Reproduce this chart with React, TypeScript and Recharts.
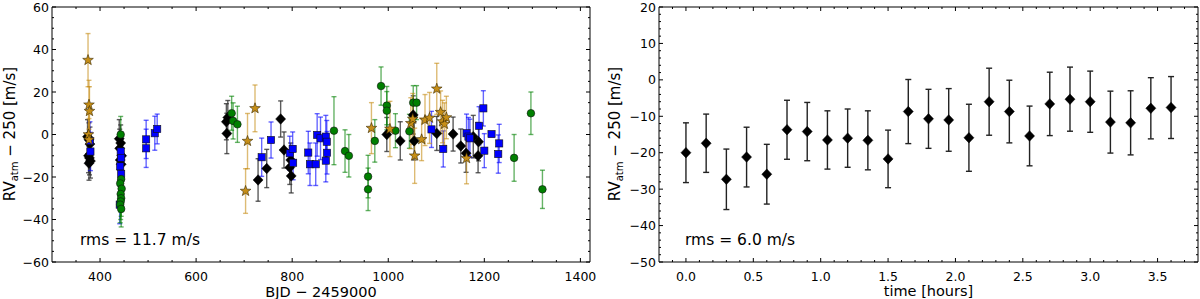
import React from 'react';
import { ScatterChart, Scatter, XAxis, YAxis, ErrorBar, ReferenceArea } from 'recharts';

const FONT = '"DejaVu Sans", "Liberation Sans", sans-serif';

// ---------- Left panel data: [BJD - 2459000, RV, error] ----------
const blackPts: number[][] = [
  [374, -1, 8], [377, -2.5, 8], [379, -4.5, 8], [376, -10, 8], [378, -11, 8], [380, -12.5, 8], [377, -13.5, 8],
  [440, -2, 9], [443, -4, 8.5], [441, -6.5, 9], [445, -10, 9], [442, -12, 9], [444, -14, 9],
  [663, 6, 8.5], [666, 8, 8], [664, 0.5, 9.5],
  [729, -21.4, 10], [747, -16, 9], [776, 7.3, 8.5], [783, -7.3, 8.5], [797, -12, 8], [795, -15.5, 8], [798, -19.5, 8],
  [997, 0, 8], [1025, -3, 9], [1052, 9.2, 9], [1054, -3, 9], [1101, 0.5, 8], [1135, 0.2, 8], [1151, -5.4, 8],
  [1162, -8.8, 9], [1177, -1, 10], [1188, -3.4, 9], [1187, -10, 8],
];
const bluePts: number[][] = [
  [379, -3, 9], [380, -8, 9],
  [443, -8, 9], [444, -11, 9], [442, -15, 9], [444, -18.5, 9], [441, -33, 9],
  [496, -2.3, 9], [496, -6.5, 9], [514, 0.6, 8], [519, 2.6, 7],
  [736.5, -10.7, 9], [756, -2.6, 8.5], [795, -8.8, 8], [801, -6.8, 8], [802, -13.3, 8],
  [833.5, -8.5, 10], [837, -14, 10], [849, -14, 10], [852, -0.2, 10], [859, -1.8, 10], [870, -1, 10],
  [872, -3.4, 10], [872.5, -8.6, 10], [870, -12.3, 10],
  [1090, 2.4, 8.5], [1114.5, -6.8, 8.5], [1163, 0.6, 9], [1167, -1, 9], [1170, -1.8, 9], [1189, 4.1, 9],
  [1198, 12.3, 8.3], [1200, -7.6, 8], [1215, 0.2, 0], [1231, -4.2, 9], [1229, -9.2, 9],
];
const greenPts: number[][] = [
  [443, 0, 8.5], [444, -21, 8.5], [442, -23, 8.5], [445, -25.5, 8.5], [443, -28, 8.5], [444, -30, 8.5],
  [443, -31.5, 8.5], [442, -33, 8.5], [444, -35, 8.5],
  [674, 10, 8], [677, 6.4, 8.5], [686, 4.8, 8.5],
  [887, 1.8, 16], [910, -7.8, 10], [918, -10, 10], [958, -19.8, 10], [958, -25.8, 10], [972, -3, 10],
  [985, 22.8, 9], [997, 13.6, 9], [997, 11.2, 9], [1015, 1.8, 8], [1044, 1.5, 8], [1052, 15, 8], [1059, 15, 8],
  [1262, -11, 11], [1297, 10, 10], [1321, -25.8, 9],
];
const goldPts: number[][] = [
  [375, 35, 12.5], [377, 14, 11.5], [378, 11, 11.5], [376, 0, 10], [377, -2.5, 10],
  [722.6, 12.3, 11], [707, -3.1, 13], [703, -26.6, 10.5],
  [965, 3, 12], [1003.5, 2.6, 13], [1047, 5.3, 12], [1051, 7.3, 12], [1055, -10, 13], [1069.5, -2.3, 10],
  [1076.5, 6.8, 12], [1086, 7.8, 12], [1101, 21.5, 12], [1109, 10.5, 10], [1113, 6.1, 10], [1117, 4.9, 10],
  [1121, 8, 10], [1163, -11.2, 12],
];

// ---------- Right panel data ----------
const timeHours = [0, 0.15, 0.3, 0.45, 0.6, 0.75, 0.9, 1.05, 1.2, 1.35, 1.5, 1.65, 1.8, 1.95, 2.1, 2.25, 2.4, 2.55, 2.7, 2.85, 3.0, 3.15, 3.3, 3.45, 3.6];
const rvTime = [-20, -17.4, -27.3, -21.2, -25.9, -13.7, -14.2, -16.5, -16, -16.6, -21.7, -8.7, -10.7, -11, -15.9, -6, -8.7, -15.4, -6.6, -5.3, -6, -11.6, -11.8, -7.8, -7.6];
const rvTimeErr = [8.2, 8, 8.3, 8.2, 8.2, 8.1, 8, 8, 8, 8.1, 7.9, 8.8, 8.1, 8.6, 9.2, 9.2, 8.6, 8.2, 8.7, 8.8, 8.4, 8.5, 8.8, 8.4, 8.5];

// ---------- Ticks / labels ----------
const leftXMajor = [400, 600, 800, 1000, 1200, 1400];
const leftYMajor = [-60, -40, -20, 0, 20, 40, 60];
const rightXMajor = [0, 0.5, 1, 1.5, 2, 2.5, 3, 3.5];
const rightYMajor = [-50, -40, -30, -20, -10, 0, 10, 20];
const leftXLabel = 'BJD \u2212 2459000';
const rightXLabel = 'time [hours]';
const leftRms = 'rms = 11.7 m/s';
const rightRms = 'rms = 6.0 m/s';

const range = (a: number, b: number, s: number) => {
  const out: number[] = [];
  const n = Math.round((b - a) / s);
  for (let i = 0; i <= n; i++) out.push(+(a + i * s).toFixed(6));
  return out;
};

const rows = (pts: number[][]) => pts.map(([x, y, e]) => ({ x, y, e }));
const timeRows = timeHours.map((x, i) => ({ x, y: rvTime[i], e: rvTimeErr[i] }));

const fmtInt = (v: number) => (v < 0 ? '\u2212' + Math.abs(v) : String(v));
const fmtDec = (v: number) => (v < 0 ? '\u2212' + Math.abs(v).toFixed(1) : v.toFixed(1));
const isIn = (arr: number[], v: number) => arr.some((m) => Math.abs(m - v) < 1e-6);

// ---------- Markers ----------
const Diamond = (r: number) => (p: any) => {
  const { cx, cy } = p;
  if (cx == null || cy == null) return <g />;
  return <path d={`M${cx},${cy - r * 1.05}L${cx + r},${cy}L${cx},${cy + r * 1.05}L${cx - r},${cy}Z`} fill="#000" stroke="#000" strokeWidth={0.5} />;
};
const Square = (p: any) => {
  const { cx, cy } = p;
  if (cx == null || cy == null) return <g />;
  return <rect x={cx - 3.6} y={cy - 3.6} width={7.2} height={7.2} fill="#0000ff" stroke="#111" strokeWidth={0.6} />;
};
const Circle = (p: any) => {
  const { cx, cy } = p;
  if (cx == null || cy == null) return <g />;
  return <circle cx={cx} cy={cy} r={3.8} fill="#008000" stroke="#111" strokeWidth={0.6} />;
};
const Star = (p: any) => {
  const { cx, cy } = p;
  if (cx == null || cy == null) return <g />;
  const R = 5.6, r = 2.3;
  let d = '';
  for (let i = 0; i < 10; i++) {
    const ang = -Math.PI / 2 + (i * Math.PI) / 5;
    const rad = i % 2 === 0 ? R : r;
    d += (i === 0 ? 'M' : 'L') + (cx + rad * Math.cos(ang)).toFixed(2) + ',' + (cy + rad * Math.sin(ang)).toFixed(2);
  }
  return <path d={d + 'Z'} fill="#c68e17" stroke="#3a2a00" strokeWidth={0.6} />;
};

// ---------- Tick renderers ----------
const makeXTick = (majors: number[], fmt: (v: number) => string, plotTop: number) => (props: any) => {
  const { x, y, payload } = props;
  const v = payload.value;
  const major = isIn(majors, v);
  const len = major ? 4 : 2;
  return (
    <g>
      <line x1={x} x2={x} y1={y} y2={y - len} stroke="#000" strokeWidth={1} />
      <line x1={x} x2={x} y1={plotTop} y2={plotTop + len} stroke="#000" strokeWidth={1} />
      {major && (
        <text x={x} y={y + 18.5} textAnchor="middle" fontFamily={FONT} fontSize={12.5} fill="#000">
          {fmt(v)}
        </text>
      )}
    </g>
  );
};
const makeYTick = (majors: number[], fmt: (v: number) => string, plotRight: number) => (props: any) => {
  const { x, y, payload } = props;
  const v = payload.value;
  const major = isIn(majors, v);
  const len = major ? 4 : 2;
  return (
    <g>
      <line x1={x} x2={x + len} y1={y} y2={y} stroke="#000" strokeWidth={1} />
      <line x1={plotRight} x2={plotRight - len} y1={y} y2={y} stroke="#000" strokeWidth={1} />
      {major && (
        <text x={x - 3} y={y + 4.5} textAnchor="end" fontFamily={FONT} fontSize={12.5} fill="#000">
          {fmt(v)}
        </text>
      )}
    </g>
  );
};

// layout constants
const TOP = 7;
const BOTTOM_H = 37;
const L_LEFT = 52, L_RIGHT = 590;
const R_LEFT = 659, R_RIGHT = 1198;

const YLabel = ({ x, y }: { x: number; y: number }) => (
  <text transform={`translate(${x},${y}) rotate(-90)`} textAnchor="middle" fontFamily={FONT} fontSize={15} fill="#000">
    RV
    <tspan fontSize={10} dy={3}>atm</tspan>
    <tspan dy={-3}>{' \u2212 250 [m/s]'}</tspan>
  </text>
);

export default function App() {
  const leftXTicks = range(350, 1400, 50);
  const leftYTicks = range(-60, 60, 5);
  const rightXTicks = range(-0.1, 3.7, 0.1);
  const rightYTicks = range(-50, 20, 2);

  return (
    <div style={{ position: 'absolute', left: 0, top: 0, width: 1200, height: 299, background: '#fff' }}>
      <div style={{ position: 'absolute', left: 0, top: 0 }}>
        <ScatterChart width={600} height={299} margin={{ top: TOP, right: 600 - L_RIGHT, bottom: 0, left: 0 }}>
          <XAxis type="number" dataKey="x" domain={[300, 1420]} allowDataOverflow ticks={leftXTicks} interval={0}
            tickSize={0} tickMargin={0} axisLine={false} tickLine={false} height={BOTTOM_H}
            tick={makeXTick(leftXMajor, fmtInt, TOP)} />
          <YAxis type="number" dataKey="y" domain={[-60, 60]} allowDataOverflow ticks={leftYTicks} interval={0}
            tickSize={0} tickMargin={0} axisLine={false} tickLine={false} width={L_LEFT}
            tick={makeYTick(leftYMajor, fmtInt, L_RIGHT)} />
          <Scatter data={rows(blackPts)} shape={Diamond(5)} isAnimationActive={false}>
            <ErrorBar dataKey="e" direction="y" width={2.5} stroke="#333" strokeOpacity={0.8} strokeWidth={1.4} />
          </Scatter>
          <Scatter data={rows(bluePts)} shape={Square} isAnimationActive={false}>
            <ErrorBar dataKey="e" direction="y" width={2.5} stroke="#0000ff" strokeOpacity={0.6} strokeWidth={1.4} />
          </Scatter>
          <Scatter data={rows(greenPts)} shape={Circle} isAnimationActive={false}>
            <ErrorBar dataKey="e" direction="y" width={2.5} stroke="#008000" strokeOpacity={0.6} strokeWidth={1.4} />
          </Scatter>
          <Scatter data={rows(goldPts)} shape={Star} isAnimationActive={false}>
            <ErrorBar dataKey="e" direction="y" width={2.5} stroke="#c68e17" strokeOpacity={0.6} strokeWidth={1.4} />
          </Scatter>
          <ReferenceArea x1={300} x2={1420} y1={-60} y2={60} fill="none" stroke="#000" strokeWidth={1} ifOverflow="visible" />
        </ScatterChart>
      </div>
      <div style={{ position: 'absolute', left: 600, top: 0 }}>
        <ScatterChart width={600} height={299} margin={{ top: TOP, right: 1200 - R_RIGHT, bottom: 0, left: 0 }}>
          <XAxis type="number" dataKey="x" domain={[-0.2, 3.8]} allowDataOverflow ticks={rightXTicks} interval={0}
            tickSize={0} tickMargin={0} axisLine={false} tickLine={false} height={BOTTOM_H}
            tick={makeXTick(rightXMajor, fmtDec, TOP)} />
          <YAxis type="number" dataKey="y" domain={[-50, 20]} allowDataOverflow ticks={rightYTicks} interval={0}
            tickSize={0} tickMargin={0} axisLine={false} tickLine={false} width={R_LEFT - 600}
            tick={makeYTick(rightYMajor, fmtInt, R_RIGHT - 600)} />
          <Scatter data={timeRows} shape={Diamond(5)} isAnimationActive={false}>
            <ErrorBar dataKey="e" direction="y" width={3} stroke="#222" strokeWidth={1.4} />
          </Scatter>
          <ReferenceArea x1={-0.2} x2={3.8} y1={-50} y2={20} fill="none" stroke="#000" strokeWidth={1} ifOverflow="visible" />
        </ScatterChart>
      </div>
      <svg width={1200} height={299} style={{ position: 'absolute', left: 0, top: 0, pointerEvents: 'none' }}>
        <YLabel x={14.5} y={134} />
        <YLabel x={620} y={134} />
        <text x={(L_LEFT + L_RIGHT) / 2} y={297} textAnchor="middle" fontFamily={FONT} fontSize={14.5} fill="#000">{leftXLabel}</text>
        <text x={(R_LEFT + R_RIGHT) / 2} y={296} textAnchor="middle" fontFamily={FONT} fontSize={14.5} fill="#000">{rightXLabel}</text>
        <text x={80} y={245} fontFamily={FONT} fontSize={15.5} fill="#000">{leftRms}</text>
        <text x={685} y={245} fontFamily={FONT} fontSize={15.5} fill="#000">{rightRms}</text>
      </svg>
    </div>
  );
}
